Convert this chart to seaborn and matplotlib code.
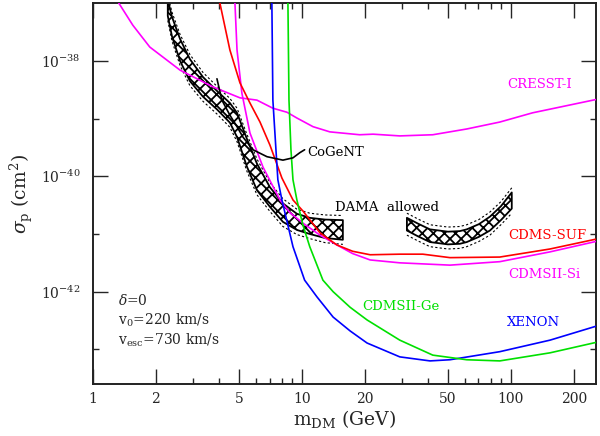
import numpy as np
import pandas as pd
import matplotlib
matplotlib.use("Agg")
import matplotlib.pyplot as plt
import matplotlib.ticker as ticker
import seaborn as sns

# limit curves: WIMP mass (GeV) and log10 of sigma_p (cm^2)
cresst_m = [1.23, 1.33, 1.55, 1.87, 2.61, 3.75, 5.05, 6.09, 7.26, 8.48, 9.46, 11.3, 13.6, 18.9, 21.9, 29.4, 42.3, 61.5, 88.5, 127, 255]
cresst_s = [-36.81, -37.0, -37.38, -37.76, -38.16, -38.45, -38.64, -38.68, -38.82, -38.89, -38.99, -39.14, -39.23, -39.28, -39.27, -39.30, -39.28, -39.18, -39.06, -38.90, -38.67]

si_m = [4.72, 4.78, 4.89, 5.16, 5.64, 6.51, 7.85, 8.76, 10.1, 12.2, 14.7, 17.5, 21.2, 29.4, 51.1, 88.5, 154, 255]
si_s = [-36.78, -37.0, -37.81, -38.56, -39.25, -39.84, -40.41, -40.63, -40.81, -41.02, -41.19, -41.34, -41.45, -41.50, -41.54, -41.48, -41.31, -41.13]

suf_m = [3.96, 4.05, 4.52, 5.05, 5.64, 6.30, 7.03, 8.02, 9.06, 10.1, 12.2, 14.7, 17.5, 21.2, 29.4, 37.9, 51.1, 88.5, 154, 255]
suf_s = [-36.77, -37.0, -37.81, -38.38, -38.73, -39.06, -39.46, -40.03, -40.41, -40.60, -40.98, -41.19, -41.30, -41.36, -41.35, -41.35, -41.41, -41.40, -41.26, -41.09]

xenon_m = [7.17, 7.18, 7.26, 7.51, 7.67, 8.02, 8.29, 9.06, 10.3, 11.8, 14.1, 17.0, 20.5, 29.4, 41.0, 51.1, 88.5, 154, 255]
xenon_s = [-36.77, -37.0, -38.68, -39.54, -40.06, -40.41, -40.63, -41.22, -41.80, -42.09, -42.44, -42.68, -42.89, -43.13, -43.20, -43.18, -43.04, -42.84, -42.60]

ge_m = [8.56, 8.57, 8.67, 8.86, 9.06, 9.46, 9.78, 10.1, 10.9, 12.6, 14.1, 17.0, 20.5, 29.4, 42.3, 61.5, 88.5, 154, 255]
ge_s = [-36.77, -37.0, -38.68, -39.54, -40.06, -40.41, -40.63, -40.84, -41.22, -41.80, -42.00, -42.27, -42.49, -42.84, -43.10, -43.18, -43.20, -43.06, -42.88]

cogent_m = [3.92, 4.14, 4.52, 4.89, 5.22, 5.83, 6.80, 8.11, 9.06, 9.78, 10.3]
cogent_s = [-38.31, -38.68, -38.94, -39.14, -39.32, -39.54, -39.66, -39.72, -39.68, -39.59, -39.54]

# DAMA allowed regions: centre line and half width (decades)
dama1_m = [2.28, 2.39, 2.61, 2.91, 3.36, 3.92, 4.52, 4.89, 5.45, 6.09, 7.03, 8.11, 9.46, 10.9, 12.9, 15.7]
dama1_c = [-37.08, -37.41, -37.81, -38.16, -38.45, -38.68, -38.90, -39.11, -39.59, -40.01, -40.36, -40.63, -40.79, -40.86, -40.91, -40.93]
dama1_w = [0.14, 0.17, 0.19, 0.19, 0.17, 0.16, 0.17, 0.21, 0.24, 0.23, 0.17, 0.16, 0.14, 0.14, 0.16, 0.17]

dama2_m = [31.8, 35.9, 41.0, 50.0, 57.0, 61.5, 70.3, 79.4, 89.6, 101]
dama2_c = [-40.83, -40.93, -41.03, -41.07, -41.06, -41.03, -40.94, -40.82, -40.64, -40.42]
dama2_w = [0.11, 0.11, 0.11, 0.11, 0.11, 0.11, 0.11, 0.12, 0.12, 0.14]

x_ticks = [1, 2, 5, 10, 20, 50, 100, 200]
x_minor = [3, 4, 6, 7, 8, 9, 30, 40, 60, 70, 80, 90]
y_ticks = [1e-42, 1e-40, 1e-38]
y_minor = [1e-43, 1e-41, 1e-39]

sns.set_style("ticks")
plt.rcParams['font.family'] = ['DejaVu Serif']
plt.rcParams['mathtext.fontset'] = 'dejavuserif'
plt.rcParams['hatch.linewidth'] = 1.3

fig = plt.figure(figsize=(6, 4.36), dpi=100)
ax = fig.add_axes([0.155, 0.1193, 0.838, 0.874])
ax.set_xscale('log')
ax.set_yscale('log')

# DAMA bands
for m, c, w in [(dama1_m, dama1_c, dama1_w), (dama2_m, dama2_c, dama2_w)]:
    m = np.array(m); c = np.array(c); w = np.array(w)
    ax.fill_between(m, 10**(c - w), 10**(c + w), facecolor='white',
                    edgecolor='black', hatch='xxx', lw=1.3, zorder=2)
    ax.plot(m, 10**(c + w + 0.08), color='black', ls=(0, (2, 2)), lw=0.8, zorder=2)
    ax.plot(m, 10**(c - w - 0.08), color='black', ls=(0, (2, 2)), lw=0.8, zorder=2)

curves = [
    (cresst_m, cresst_s, '#ff00ff'),
    (si_m, si_s, '#ff00ff'),
    (suf_m, suf_s, '#ff0000'),
    (xenon_m, xenon_s, '#0000ff'),
    (ge_m, ge_s, '#00e000'),
    (cogent_m, cogent_s, 'black'),
]
for m, s, col in curves:
    df = pd.DataFrame({'m': m, 'sigma': 10**np.array(s)})
    sns.lineplot(data=df, x='m', y='sigma', color=col, lw=1.2, sort=False,
                 estimator=None, ax=ax, zorder=3)

ax.set_xlim(1, 255)
ax.set_ylim(10**-43.6, 10**-36.995)

ax.xaxis.set_major_locator(ticker.FixedLocator(x_ticks))
ax.xaxis.set_major_formatter(ticker.FixedFormatter([str(t) for t in x_ticks]))
ax.xaxis.set_minor_locator(ticker.FixedLocator(x_minor))
ax.xaxis.set_minor_formatter(ticker.NullFormatter())
ax.yaxis.set_major_locator(ticker.FixedLocator(y_ticks))
ax.yaxis.set_major_formatter(ticker.FixedFormatter(['$10^{-42}$', '$10^{-40}$', '$10^{-38}$']))
ax.yaxis.set_minor_locator(ticker.FixedLocator(y_minor))
ax.yaxis.set_minor_formatter(ticker.NullFormatter())

ax.tick_params(which='both', direction='in', top=True, right=True, width=1.0, labelsize=10)
ax.tick_params(which='major', length=11)
ax.tick_params(which='minor', length=4.5)
ax.tick_params(axis='y', pad=9)
ax.tick_params(axis='x', pad=6)
for sp in ax.spines.values():
    sp.set_linewidth(1.4)
    sp.set_color('#222222')

ax.set_xlabel(r'm$_{\rm DM}$ (GeV)', fontsize=13.5, labelpad=1)
ax.set_ylabel(r'$\sigma_{\rm p}$ (cm$^2$)', fontsize=13.5, labelpad=4)

ax.text(95.7, 10**-38.41, 'CRESST-I', color='#ff00ff', fontsize=9.5, va='center')
ax.text(96.8, 10**-41.02, 'CDMS-SUF', color='#ff0000', fontsize=9.5, va='center')
ax.text(96.8, 10**-41.71, 'CDMSII-Si', color='#ff00ff', fontsize=9.5, va='center')
ax.text(19.4, 10**-42.26, 'CDMSII-Ge', color='#00e000', fontsize=9.5, va='center')
ax.text(95.7, 10**-42.54, 'XENON', color='#0000ff', fontsize=9.5, va='center')
ax.text(10.6, 10**-39.59, 'CoGeNT', color='black', fontsize=9.5, va='center')
ax.text(14.4, 10**-40.54, 'DAMA  allowed', color='black', fontsize=9.5, va='center')

ax.text(1.317, 10**-42.15, r'$\delta$=0', fontsize=10, va='center')
ax.text(1.317, 10**-42.49, r'v$_0$=220 km/s', fontsize=10, va='center')
ax.text(1.317, 10**-42.84, r'v$_{\rm esc}$=730 km/s', fontsize=10, va='center')

fig.savefig('out.png', dpi=100)
